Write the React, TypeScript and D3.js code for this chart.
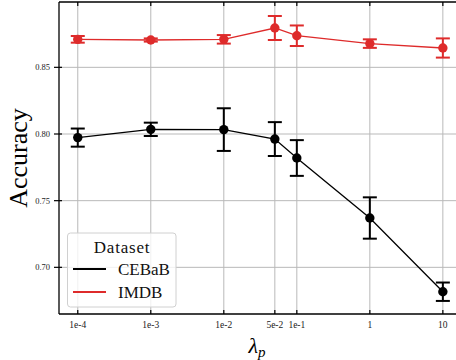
import React from "react";
import * as d3 from "d3";

const xValues = [1e-4, 1e-3, 1e-2, 5e-2, 1e-1, 1, 10];
const xTickLabels = ["1e-4", "1e-3", "1e-2", "5e-2", "1e-1", "1", "10"];
const yTicks = [0.7, 0.75, 0.8, 0.85];
const cebabMean = [0.7973, 0.8035, 0.8033, 0.7962, 0.782, 0.737, 0.6817];
const cebabErr = [0.0068, 0.005, 0.016, 0.0127, 0.0134, 0.0155, 0.0069];
const imdbMean = [0.871, 0.8705, 0.871, 0.8795, 0.8737, 0.8678, 0.8645];
const imdbErr = [0.0025, 0.0012, 0.0032, 0.009, 0.0077, 0.0032, 0.0072];

const series = [
  { name: "CEBaB", color: "#000000", mean: cebabMean, err: cebabErr },
  { name: "IMDB", color: "#de2b2b", mean: imdbMean, err: imdbErr },
];

const W = 456, H = 360;
const L = 59, R = 456, T = 2, B = 314;
const serif = "'Liberation Serif', 'DejaVu Serif', serif";

export default function App() {
  const x = d3.scaleLog().domain([Math.pow(10, -4.257), Math.pow(10, 1.18)]).range([L, R]);
  const y = d3.scaleLinear().domain([0.665, 0.899]).range([B, T]);
  const line = d3.line<number>().x((_, i) => x(xValues[i])).y((d) => y(d));
  const capW = 7;

  return (
    <svg width={W} height={H} style={{ position: "absolute", left: 0, top: 0 }}>
      <rect x={0} y={0} width={W} height={H} fill="#fff" />
      {/* grid */}
      {xValues.map((v, i) => (
        <line key={"gx" + i} x1={x(v)} x2={x(v)} y1={T} y2={B} stroke="#b9b9b9" strokeWidth={1} />
      ))}
      {yTicks.map((v, i) => (
        <line key={"gy" + i} x1={L} x2={R} y1={y(v)} y2={y(v)} stroke="#b9b9b9" strokeWidth={1} />
      ))}
      {/* series */}
      {series.map((s) => (
        <g key={s.name}>
          <path d={line(s.mean) || ""} fill="none" stroke={s.color} strokeWidth={1.3} />
          {s.mean.map((m, i) => {
            const cx = x(xValues[i]);
            const y1 = y(m + s.err[i]);
            const y2 = y(m - s.err[i]);
            return (
              <g key={i}>
                <line x1={cx} x2={cx} y1={y1} y2={y2} stroke={s.color} strokeWidth={2} />
                <line x1={cx - capW} x2={cx + capW} y1={y1} y2={y1} stroke={s.color} strokeWidth={2} />
                <line x1={cx - capW} x2={cx + capW} y1={y2} y2={y2} stroke={s.color} strokeWidth={2} />
                <circle cx={cx} cy={y(m)} r={4.7} fill={s.color} />
              </g>
            );
          })}
        </g>
      ))}
      {/* spines */}
      <line x1={L} x2={L} y1={T} y2={B} stroke="#000" strokeWidth={1.3} />
      <line x1={L} x2={R} y1={B} y2={B} stroke="#000" strokeWidth={1.3} />
      <line x1={L} x2={R} y1={T} y2={T} stroke="#000" strokeWidth={1.3} />
      {/* x ticks */}
      {xValues.map((v, i) => (
        <g key={"xt" + i}>
          <line x1={x(v)} x2={x(v)} y1={B} y2={B - 4} stroke="#000" strokeWidth={1.2} />
          <line x1={x(v)} x2={x(v)} y1={T} y2={T + 4} stroke="#000" strokeWidth={1.2} />
          <text x={x(v)} y={B + 14} textAnchor="middle" fontFamily={serif} fontSize={9.5} fill="#222">
            {xTickLabels[i]}
          </text>
        </g>
      ))}
      {/* y ticks */}
      {yTicks.map((v, i) => (
        <g key={"yt" + i}>
          <line x1={L - 5} x2={L + 3} y1={y(v)} y2={y(v)} stroke="#000" strokeWidth={1.2} />
          <text x={L - 9} y={y(v) + 3} textAnchor="end" fontFamily={serif} fontSize={8.5} fill="#222">
            {d3.format(".2f")(v)}
          </text>
        </g>
      ))}
      {/* axis labels */}
      <text
        transform={`translate(27,${(T + B) / 2}) rotate(-90)`}
        textAnchor="middle"
        fontFamily={serif}
        fontSize={26}
        fill="#000"
      >
        Accuracy
      </text>
      <text x={257} y={353} textAnchor="middle" fontFamily={serif} fontSize={22} fill="#000">
        <tspan fontStyle="italic">λ</tspan>
        <tspan fontStyle="italic" fontSize={15} dy={4}>p</tspan>
      </text>
      {/* legend */}
      <g>
        <rect x={67.5} y={233} width={108.5} height={74} rx={3} fill="#fff" fillOpacity={0.8} stroke="#d0d0d0" strokeWidth={1} />
        <text x={122} y={253} textAnchor="middle" fontFamily={serif} fontSize={17} letterSpacing={0.8} fill="#111">
          Dataset
        </text>
        {series.map((s, i) => (
          <g key={"lg" + i}>
            <line x1={73} x2={106} y1={269 + i * 23} y2={269 + i * 23} stroke={s.color} strokeWidth={2} />
            <text x={118} y={275 + i * 23} fontFamily={serif} fontSize={17} fill="#111">
              {s.name}
            </text>
          </g>
        ))}
      </g>
    </svg>
  );
}
